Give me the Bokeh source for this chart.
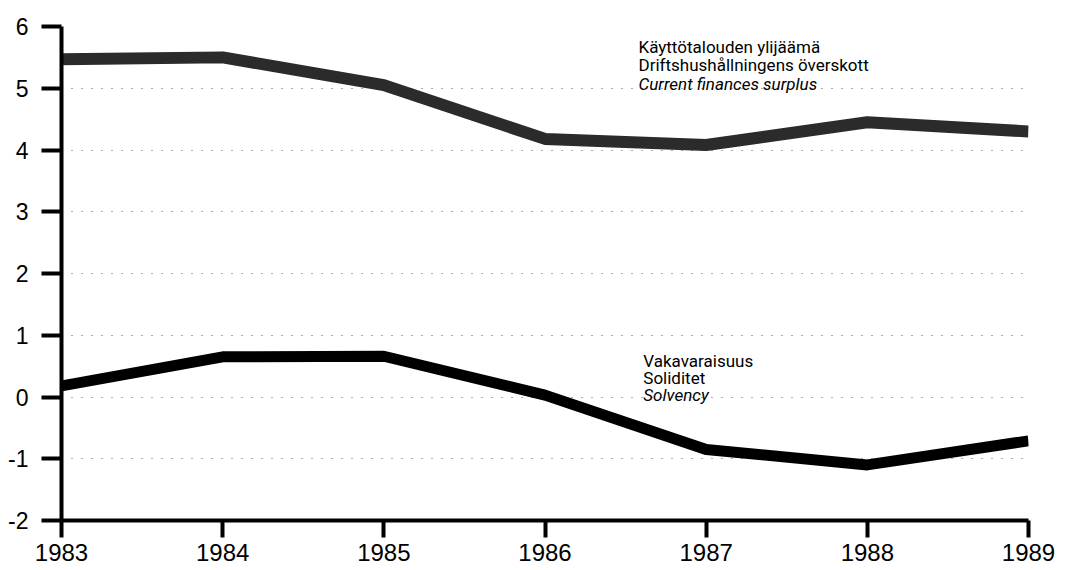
from bokeh.plotting import figure
from bokeh.models import Range1d, FixedTicker, Label
from bokeh.embed import file_html
from bokeh.resources import INLINE

years = [1983, 1984, 1985, 1986, 1987, 1988, 1989]
surplus = [5.47, 5.50, 5.05, 4.18, 4.08, 4.45, 4.30]
solvency = [0.18, 0.65, 0.66, 0.03, -0.85, -1.10, -0.71]

surplus_labels = ["Käyttötalouden ylijäämä", "Driftshushållningens överskott", "Current finances surplus"]
solvency_labels = ["Vakavaraisuus", "Soliditet", "Solvency"]
y_ticks = [-2, -1, 0, 1, 2, 3, 4, 5, 6]

p = figure(width=1067, height=570, output_backend="svg", toolbar_location=None,
           x_range=Range1d(1983, 1989), y_range=Range1d(-2, 6),
           min_border_left=61, min_border_right=39, min_border_top=26, min_border_bottom=50)
p.outline_line_color = None
p.background_fill_color = "white"

for ax in (p.xaxis[0], p.yaxis[0]):
    ax.axis_line_width = 4
    ax.axis_line_color = "black"
    ax.major_tick_line_width = 4
    ax.major_tick_line_color = "black"
    ax.major_tick_in = 0
    ax.minor_tick_line_color = None
    ax.major_label_text_font = "Liberation Sans"
    ax.major_label_text_color = "black"

p.xaxis[0].ticker = FixedTicker(ticks=years)
p.xaxis[0].major_tick_out = 17
p.xaxis[0].major_label_standoff = 6
p.xaxis[0].major_label_text_font_size = "24px"

p.yaxis[0].ticker = FixedTicker(ticks=y_ticks)
p.yaxis[0].major_label_overrides = {t: str(t) for t in y_ticks}
p.yaxis[0].major_tick_out = 20
p.yaxis[0].major_label_standoff = 13
p.yaxis[0].major_label_text_font_size = "23px"
p.yaxis[0].major_label_text_baseline = "alphabetic"

p.xgrid.grid_line_color = None
p.ygrid.ticker = FixedTicker(ticks=[-1, 0, 1, 2, 3, 4, 5, 6])
p.ygrid.grid_line_color = "#555555"
p.ygrid.grid_line_width = 1
p.ygrid.grid_line_dash = "1 9"

p.line(years, surplus, line_width=12, line_color="#2b2b2b", line_join="round")
p.line(years, solvency, line_width=11, line_color="black", line_join="round")

def add_labels(lines, x, y_top, step):
    for i, t in enumerate(lines):
        p.add_layout(Label(x=x, y=y_top - i * step, text=t,
                           text_font="Roboto", text_font_size="17px",
                           text_font_style="italic" if i == 2 else "normal",
                           text_color="black", text_baseline="alphabetic"))

add_labels(surplus_labels, 1986.58, 5.676, 0.30)
add_labels(solvency_labels, 1986.61, 0.575, 0.275)

open("out.html", "w").write(file_html(p, INLINE))
